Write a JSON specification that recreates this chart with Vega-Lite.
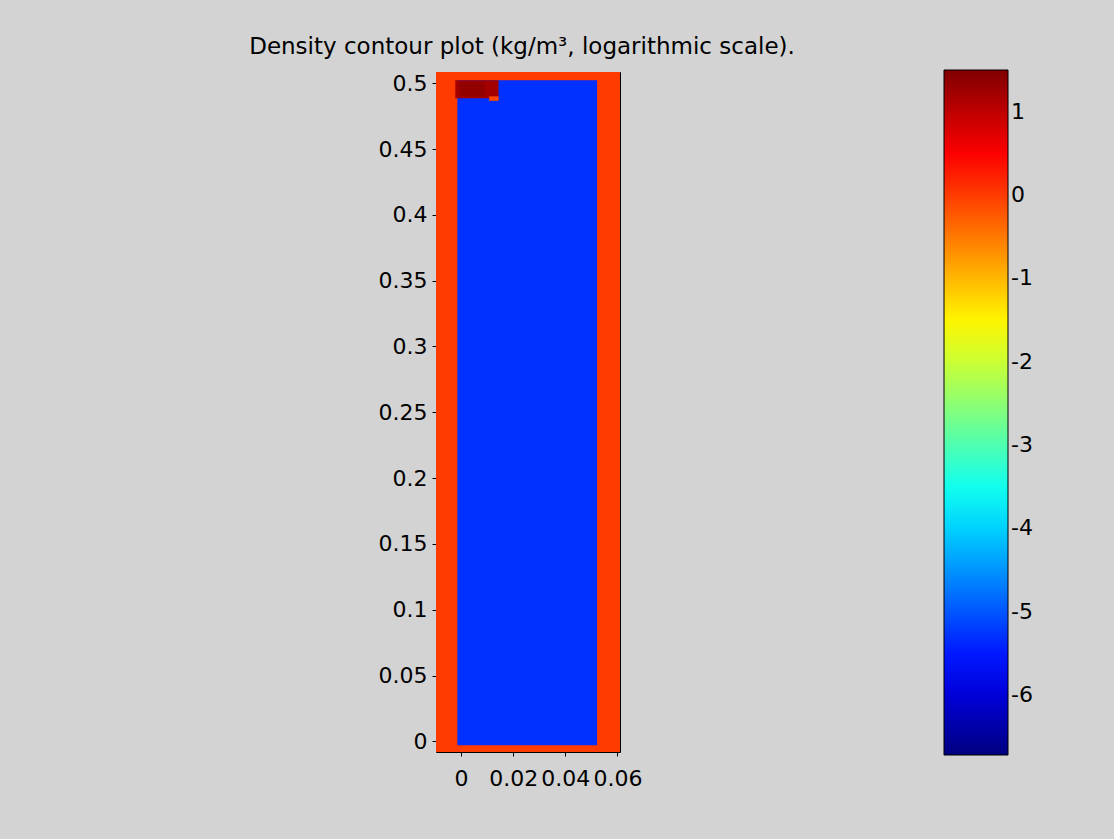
{
  "$schema": "https://vega.github.io/schema/vega-lite/v6.json",
  "width": 184,
  "height": 680,
  "autosize": {"type": "none"},
  "padding": {"left": 436, "top": 72, "right": 494, "bottom": 87},
  "background": "#d3d3d3",
  "title": {
    "text": "Density contour plot (kg/m³, logarithmic scale).",
    "font": "DejaVu Sans",
    "fontSize": 23,
    "fontWeight": "normal",
    "color": "black",
    "offset": 11,
    "dx": -6
  },
  "data": {
    "values": [
      {"x0": -0.0096, "x1": 0.061, "y0": -0.0081, "y1": 0.5085, "v": 0.0},
      {"x0": -0.0014, "x1": 0.0522, "y0": -0.003, "y1": 0.5023, "v": -5.3},
      {"x0": -0.0022, "x1": 0.0144, "y0": 0.4886, "y1": 0.5023, "v": 1.22},
      {"x0": -0.0005, "x1": 0.009, "y0": 0.4900, "y1": 0.5015, "v": 1.35},
      {"x0": 0.0108, "x1": 0.0144, "y0": 0.4866, "y1": 0.4900, "v": -0.1}
    ]
  },
  "mark": {"type": "rect", "strokeWidth": 0},
  "encoding": {
    "x": {
      "field": "x0",
      "type": "quantitative",
      "scale": {"domain": [-0.0096, 0.061], "nice": false, "zero": false},
      "axis": {
        "values": [0, 0.02, 0.04, 0.06],
        "format": ".2~f",
        "title": null,
        "grid": false,
        "domain": false,
        "labelFont": "DejaVu Sans",
        "labelFontSize": 22,
        "labelColor": "black",
        "tickColor": "black",
        "tickSize": 4,
        "labelPadding": 12,
        "labelOverlap": false,
        "labelFlush": false,
        "labelBound": false
      }
    },
    "x2": {"field": "x1"},
    "y": {
      "field": "y0",
      "type": "quantitative",
      "scale": {"domain": [-0.0081, 0.5085], "nice": false, "zero": false},
      "axis": {
        "values": [0, 0.05, 0.1, 0.15, 0.2, 0.25, 0.3, 0.35, 0.4, 0.45, 0.5],
        "format": ".2~f",
        "title": null,
        "grid": false,
        "domain": false,
        "labelFont": "DejaVu Sans",
        "labelFontSize": 22,
        "labelColor": "black",
        "tickColor": "black",
        "tickSize": 4,
        "labelPadding": 5,
        "labelOverlap": false,
        "labelFlush": false,
        "labelBound": false
      }
    },
    "y2": {"field": "y1"},
    "color": {
      "field": "v",
      "type": "quantitative",
      "scale": {
        "type": "linear",
        "domain": [-6.72, -5.6925, -3.6375, -1.5825, 0.4725, 1.5],
        "range": ["#000080", "#0000ff", "#00ffff", "#ffff00", "#ff0000", "#800000"],
        "interpolate": "rgb",
        "nice": false,
        "zero": false
      },
      "legend": {
        "title": null,
        "orient": "none",
        "legendX": 508,
        "legendY": -2,
        "direction": "vertical",
        "gradientLength": 685,
        "gradientThickness": 64,
        "gradientStrokeColor": "black",
        "gradientStrokeWidth": 1,
        "values": [-6, -5, -4, -3, -2, -1, 0, 1],
        "labelFont": "DejaVu Sans",
        "labelFontSize": 22,
        "labelColor": "black",
        "labelOffset": 3,
        "labelOverlap": false,
        "labelExpr": "datum.value < 0 ? '-' + abs(datum.value) : '' + datum.value",
        "padding": 0
      }
    }
  },
  "config": {
    "view": {"stroke": "black", "strokeWidth": 1}
  }
}
